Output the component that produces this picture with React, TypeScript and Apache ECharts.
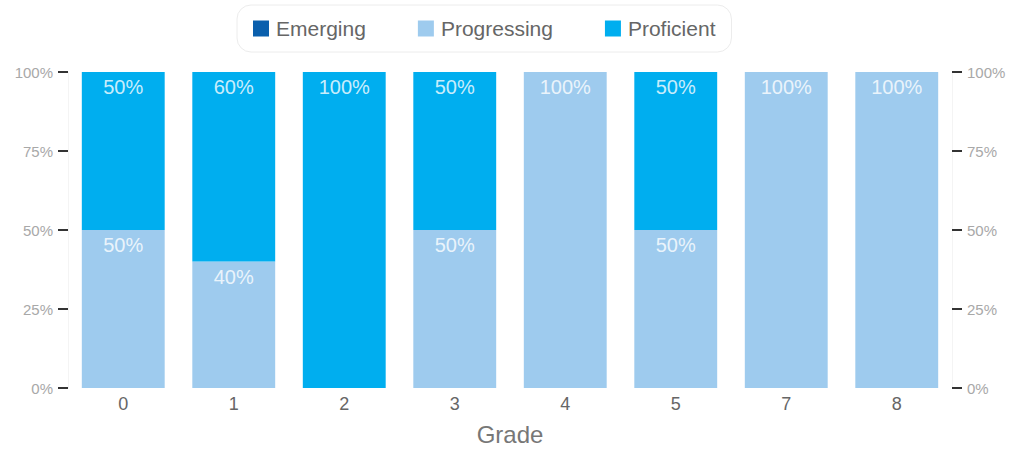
import React, { useEffect, useRef } from "react";
import * as echarts from "echarts";

const grades = ["0", "1", "2", "3", "4", "5", "7", "8"];
const emerging = [0, 0, 0, 0, 0, 0, 0, 0];
const progressing = [50, 40, 0, 50, 100, 50, 100, 100];
const proficient = [50, 60, 100, 50, 0, 50, 0, 0];
const yTicks = [0, 25, 50, 75, 100];

export default function App() {
  const ref = useRef<HTMLDivElement>(null);
  useEffect(() => {
    const chart = echarts.init(ref.current!, undefined, { renderer: "svg" });
    const label = {
      show: true,
      position: "insideTop",
      distance: 5,
      color: "rgba(255,255,255,0.8)",
      fontSize: 20,
      fontFamily: "Liberation Sans",
      formatter: (p: any) => (p.value > 0 ? p.value + "%" : ""),
    };
    const yAxisCommon = {
      type: "value",
      min: 0,
      max: 100,
      interval: 25,
      axisLine: { show: true, lineStyle: { color: "#f4f4f4" } },
      axisTick: { show: true, length: 10, lineStyle: { color: "#333", width: 2 } },
      splitLine: { show: false },
      axisLabel: {
        color: "#a8a8a8",
        fontSize: 15,
        fontFamily: "Liberation Sans",
        margin: 15,
        formatter: (v: number) => (yTicks.includes(v) ? v + "%" : ""),
      },
    };
    chart.setOption({
      animation: false,
      legend: {
        top: 5,
        left: 237,
        data: ["Emerging", "Progressing", "Proficient"],
        itemWidth: 16,
        itemHeight: 16,
        itemGap: 52,
        padding: [13, 16, 13, 16],
        borderColor: "#ececec",
        borderWidth: 1,
        borderRadius: 14,
        icon: "rect",
        textStyle: { color: "#666", fontSize: 21, fontFamily: "Liberation Sans", padding: [0, 0, 0, 2] },
      },
      grid: { left: 68, right: 62, top: 72, bottom: 61, outerBoundsMode: "none", containLabel: false },
      xAxis: {
        type: "category",
        data: grades,
        name: "Grade",
        nameLocation: "middle",
        nameGap: 34,
        nameTextStyle: { color: "#777", fontSize: 24, lineHeight: 24, fontFamily: "Liberation Sans" },
        axisLine: { show: false },
        axisTick: { show: false },
        axisLabel: { color: "#666", fontSize: 18, fontFamily: "Liberation Sans", margin: 7 },
      },
      yAxis: [
        { ...yAxisCommon, position: "left" },
        { ...yAxisCommon, position: "right" },
      ],
      series: [
        {
          name: "Emerging",
          type: "bar",
          stack: "s",
          data: emerging,
          barCategoryGap: "25%",
          itemStyle: { color: "#0a5fad" },
          label,
        },
        {
          name: "Progressing",
          type: "bar",
          stack: "s",
          data: progressing,
          itemStyle: { color: "#9ecbee" },
          label,
        },
        {
          name: "Proficient",
          type: "bar",
          stack: "s",
          data: proficient,
          itemStyle: { color: "#00aeef" },
          label,
        },
      ],
    });
    return () => chart.dispose();
  }, []);
  return <div ref={ref} style={{ width: 1014, height: 449, position: "absolute", left: 0, top: 0 }} />;
}
